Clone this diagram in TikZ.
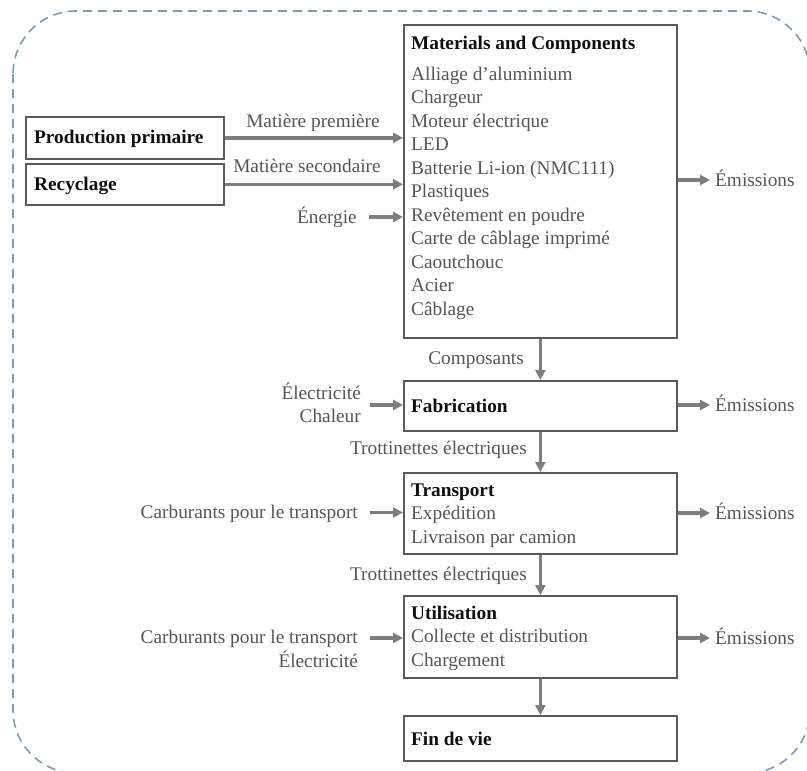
\documentclass[tikz,border=0pt]{standalone}
\usepackage{fontspec}
\setmainfont{Liberation Serif}
\usetikzlibrary{arrows.meta}
\definecolor{arrgray}{RGB}{125,125,125}
\definecolor{boxgray}{RGB}{90,90,90}
\definecolor{txtgray}{RGB}{85,85,85}
\definecolor{ttlblack}{RGB}{15,15,15}
\definecolor{dashblue}{RGB}{120,155,192}
\newcommand\mainsz{\fontsize{19.3pt}{23.5pt}\selectfont}
\begin{document}
\begin{tikzpicture}[x=1pt,y=-1pt,
  every node/.style={font=\mainsz},
  procbox/.style={draw=boxgray, line width=1.7pt, minimum width=273pt, inner sep=0pt, anchor=north west},
  srcbox/.style={draw=boxgray, line width=1.7pt, minimum width=198pt, minimum height=42pt, inner sep=0pt, anchor=north west},
  item/.style={anchor=base west, inner sep=0pt, text=txtgray},
  ttl/.style={anchor=base west, inner sep=0pt, text=ttlblack, font=\mainsz\bfseries},
  lbl/.style={inner sep=0pt, text=txtgray},
  arr/.style={draw=arrgray, line width=3.3pt, -{Triangle[length=10pt,width=10pt]}}
]
\useasboundingbox (0,0) rectangle (807,771);
\draw[dashblue, line width=1.6pt, dash pattern=on 9pt off 6pt, rounded corners=63pt] (13,11) rectangle (810,773);

% boxes
\node[srcbox] (pp) at (25,116) {};
\node[srcbox, minimum height=41pt] (rec) at (25,163) {};
\node[procbox, minimum height=313pt] (mat) at (403,24) {};
\node[procbox, minimum height=50pt] (fab) at (403,380) {};
\node[procbox, minimum height=81pt] (trans) at (403,472) {};
\node[procbox, minimum height=82pt] (util) at (403,595) {};
\node[procbox, minimum height=45pt] (fin) at (403,715) {};

% box texts
\node[ttl] (tpp) at (34,143) {Production primaire};
\node[ttl] (trec) at (34,190) {Recyclage};
\node[ttl] (tmat) at (411,49) {Materials and Components};
\node[item] (m1) at (411,80) {Alliage d’aluminium};
\node[item] (m2) at (411,103.5) {Chargeur};
\node[item] (m3) at (411,127) {Moteur électrique};
\node[item] (m4) at (411,150.5) {LED};
\node[item] (m5) at (411,174) {Batterie Li-ion (NMC111)};
\node[item] (m6) at (411,197.5) {Plastiques};
\node[item] (m7) at (411,221) {Revêtement en poudre};
\node[item] (m8) at (411,244.5) {Carte de câblage imprimé};
\node[item] (m9) at (411,268) {Caoutchouc};
\node[item] (m10) at (411,291.5) {Acier};
\node[item] (m11) at (411,315) {Câblage};
\node[ttl] (tfab) at (411,412) {Fabrication};
\node[ttl] (ttrans) at (411,496) {Transport};
\node[item] (t1) at (411,519.5) {Expédition};
\node[item] (t2) at (411,543) {Livraison par camion};
\node[ttl] (tutil) at (411,619) {Utilisation};
\node[item] (u1) at (411,642.5) {Collecte et distribution};
\node[item] (u2) at (411,666) {Chargement};
\node[ttl] (tfin) at (411,745) {Fin de vie};

% arrow labels
\node[lbl, anchor=base] (lmp) at (313,127) {Matière première};
\node[lbl, anchor=base] (lms) at (307,172) {Matière secondaire};
\node[lbl, anchor=base east] (len) at (357,223) {Énergie};
\node[lbl, anchor=base east] (lcomp) at (524,364) {Composants};
\node[lbl, anchor=base east] (lel1) at (361,399) {Électricité};
\node[lbl, anchor=base east] (lch) at (361,422) {Chaleur};
\node[lbl, anchor=base east] (ltr1) at (527,454) {Trottinettes électriques};
\node[lbl, anchor=base east] (lcar1) at (358,518) {Carburants pour le transport};
\node[lbl, anchor=base east] (ltr2) at (527,580) {Trottinettes électriques};
\node[lbl, anchor=base east] (lcar2) at (358,643) {Carburants pour le transport};
\node[lbl, anchor=base east] (lel2) at (358,667) {Électricité};
\node[lbl, anchor=base west] (em1) at (715,186) {Émissions};
\node[lbl, anchor=base west] (em2) at (715,411) {Émissions};
\node[lbl, anchor=base west] (em3) at (715,519) {Émissions};
\node[lbl, anchor=base west] (em4) at (715,644) {Émissions};

% arrow free ends
\coordinate (inEn) at (369,217);
\coordinate (inFab) at (370,405);
\coordinate (inTr) at (370,512.5);
\coordinate (inUt) at (370,638);
\coordinate (outM) at (710,180);
\coordinate (outF) at (710,405);
\coordinate (outT) at (710,513);
\coordinate (outU) at (710,638);

% arrows
\draw[arr] (pp.east) -- (pp.east -| mat.west);
\draw[arr] (rec.east) -- (rec.east -| mat.west);
\draw[arr] (inEn) -- (inEn -| mat.west);
\draw[arr] (inFab) -- (inFab -| fab.west);
\draw[arr] (inTr) -- (inTr -| trans.west);
\draw[arr] (inUt) -- (inUt -| util.west);
\draw[arr] (outM -| mat.east) -- (outM);
\draw[arr] (outF -| fab.east) -- (outF);
\draw[arr] (outT -| trans.east) -- (outT);
\draw[arr] (outU -| util.east) -- (outU);
\draw[arr] (mat.south) -- (fab.north);
\draw[arr] (fab.south) -- (trans.north);
\draw[arr] (trans.south) -- (util.north);
\draw[arr] (util.south) -- (fin.north);
\end{tikzpicture}
\end{document}
